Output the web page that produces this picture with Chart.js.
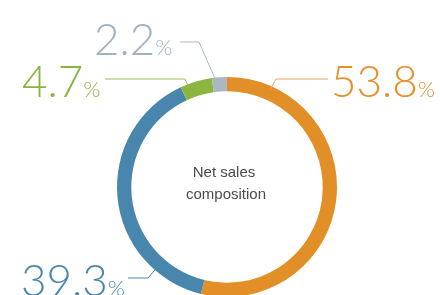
<!DOCTYPE html>
<html>
<head>
<meta charset="utf-8">
<script src="https://cdn.jsdelivr.net/npm/chart.js@4.4.0/dist/chart.umd.min.js"></script>
<style>
  html, body { margin: 0; padding: 0; background: #fff; overflow: hidden; }
  #wrap { width: 440px; height: 295px; overflow: hidden; }
</style>
</head>
<body>
<div id="wrap"><canvas id="my-canvas" width="440" height="310"></canvas></div>
<script>
// data
const segments = ['Segment A', 'Segment B', 'Segment C', 'Segment D'];
const shares = [53.8, 39.3, 4.7, 2.2];
const labelTexts = ['53.8', '39.3', '4.7', '2.2'];
const centerLines = ['Net sales', 'composition'];

const ringColors = ['#e38f27', '#4886ae', '#8db640', '#a9b8c3'];
const textColors = ['#e6902c', '#4a87ae', '#8ab43e', '#9db2c0'];
const lineColors = ['#e9a45c', '#4a87ae', '#9bbf55', '#a9b8c3'];

// leader line / label layout (annotation positions, not data)
// angle: degrees clockwise from top where the leader touches the ring
const labelLayout = [
    { angle: 24, elbow: [276, 79], end: [328, 79], tx: 331, ty: 97 },
    { angle: 221, elbow: [148, 278], end: [128, 278], tx: 21, ty: 296 },
    { angle: -21, elbow: [185, 79], end: [105, 79], tx: 22, ty: 97 },
    { angle: -6, elbow: [199, 42], end: [180, 42], tx: 94, ty: 55 }
];

const bigFont = '300 44px "Lato", "Roboto", sans-serif';
const pctFont = '300 22px "Lato", "Roboto", sans-serif';

const labelPlugin = {
    id: 'leaderLabels',
    afterDraw(chart) {
        const ctx = chart.ctx;
        const arc = chart.getDatasetMeta(0).data[0];
        const cx = arc.x, cy = arc.y, r = arc.outerRadius;
        ctx.save();
        for (let i = 0; i < shares.length; i++) {
            let lay = labelLayout[i];
            let a = lay.angle * Math.PI / 180;
            let sx = cx + Math.sin(a) * (r - 3);
            let sy = cy - Math.cos(a) * (r - 3);
            ctx.strokeStyle = lineColors[i];
            ctx.lineWidth = 1;
            ctx.beginPath();
            ctx.moveTo(sx, sy);
            ctx.lineTo(lay.elbow[0], lay.elbow[1]);
            ctx.lineTo(lay.end[0], lay.end[1]);
            ctx.stroke();
            // number + small percent
            ctx.fillStyle = textColors[i];
            ctx.textBaseline = 'alphabetic';
            ctx.textAlign = 'left';
            ctx.font = bigFont;
            ctx.fillText(labelTexts[i], lay.tx, lay.ty);
            let w = ctx.measureText(labelTexts[i]).width;
            ctx.font = pctFont;
            ctx.fillText('%', lay.tx + w, lay.ty);
        }
        // center caption
        ctx.fillStyle = '#4a4a4a';
        ctx.font = '15px "Liberation Sans", Arial, sans-serif';
        ctx.textAlign = 'center';
        ctx.textBaseline = 'middle';
        ctx.fillText(centerLines[0], cx - 3, cy - 14);
        ctx.fillText(centerLines[1], cx - 1, cy + 8);
        ctx.restore();
    }
};

let ctx = document.getElementById('my-canvas');
var chart = new Chart(ctx, {
    type: 'doughnut',
    data: {
        labels: segments,
        datasets: [{
            data: shares,
            backgroundColor: ringColors,
            borderWidth: 0
        }]
    },
    options: {
        responsive: false,
        animation: false,
        cutout: '87%',
        layout: { padding: { top: 77, bottom: 13, left: 117, right: 103 } },
        plugins: {
            legend: { display: false },
            tooltip: { enabled: false }
        }
    },
    plugins: [labelPlugin]
});
</script>
</body>
</html>
